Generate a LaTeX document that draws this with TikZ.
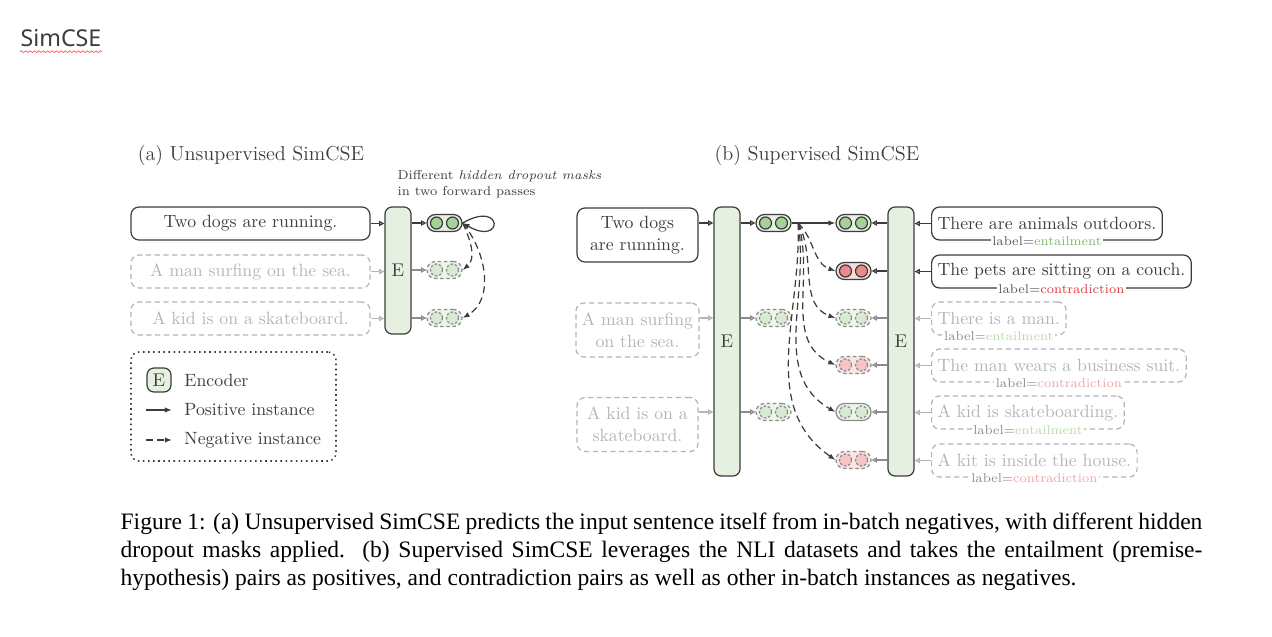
\documentclass[tikz,border=0pt]{standalone}
\usepackage{fontspec}
\usepackage{xcolor}
\usetikzlibrary{arrows.meta}
\usetikzlibrary{decorations.pathmorphing}
\newfontfamily\capfont{Liberation Serif}
\newfontfamily\headfont{Noto Sans}
\definecolor{ink}{HTML}{3C3C3C}
\definecolor{fadetext}{HTML}{B4B4B4}
\definecolor{fadeline}{HTML}{B4B4B4}
\definecolor{midline}{HTML}{8C8C8C}
\definecolor{encfill}{HTML}{E6F0E1}
\definecolor{posdot}{HTML}{A6D19B}
\definecolor{negdot}{HTML}{EC8A8A}
\definecolor{negbg}{HTML}{F8DADA}
\definecolor{entc}{HTML}{7DB86B}
\definecolor{conc}{HTML}{E03A3A}
\definecolor{fentc}{HTML}{B9DBA9}
\definecolor{fconc}{HTML}{EDA5A5}
\def\boxh{0.66cm}
\def\pillw{0.7cm}
\def\pillh{0.34cm}
\def\encw{0.52cm}
\newcommand\twodots[1]{\draw[#1] ([xshift=-0.16cm]path picture bounding box.center) circle (0.12cm) ([xshift=0.16cm]path picture bounding box.center) circle (0.12cm);}
\tikzset{
	sent/.style={draw=ink, text=ink, rounded corners=0.16cm, minimum height=\boxh, inner xsep=0.12cm, font=\fontsize{10.1}{12.5}\selectfont},
	fsent/.style={sent, draw=fadeline, text=fadetext, dash pattern=on 3pt off 2pt},
	enc/.style={draw=ink, fill=encfill, rounded corners=0.14cm, minimum width=\encw, text=ink, font=\fontsize{10.5}{12}\selectfont},
	pillbase/.style={rounded corners=0.17cm, minimum width=\pillw, minimum height=\pillh, inner sep=0pt},
	pospill/.style={pillbase, draw=ink, fill=encfill, path picture={\twodots{solid, draw=ink, fill=posdot}}},
	negpill/.style={pillbase, draw=ink, fill=negbg, path picture={\twodots{solid, draw=ink, fill=negdot}}},
	fpospill/.style={pillbase, draw=midline, dash pattern=on 2pt off 1.5pt, fill=encfill!70, path picture={\twodots{draw=midline, dash pattern=on 1.5pt off 1pt, fill=posdot!45}}},
	fnegpill/.style={pillbase, draw=midline, dash pattern=on 2pt off 1.5pt, fill=negbg!70, path picture={\twodots{draw=midline, dash pattern=on 1.5pt off 1pt, fill=negdot!50}}},
	lab/.style={fill=white, inner xsep=1pt, inner ysep=0.5pt, text=ink!85, font=\fontsize{7.3}{8}\selectfont},
	flab/.style={lab, text=midline},
	feed/.style={draw=ink, -{Triangle[open, length=3pt, width=3pt]}},
	ffeed/.style={feed, draw=fadeline},
	mfeed/.style={feed, draw=midline},
	posarr/.style={draw=ink, -{Latex[length=4pt, width=3pt]}},
	negarr/.style={posarr, dash pattern=on 4pt off 2.5pt},
}

\begin{document}
\begin{tikzpicture}[x=0.02cm, y=-0.02cm, line width=0.7pt]
	\useasboundingbox (0,0) rectangle (1272,636);

	\node[anchor=west, inner sep=0pt, text=ink, font=\headfont\fontsize{13.2}{15}\selectfont] (hd) at (20,38) {SimCSE};
	\draw[red!65, line width=0.4pt, decorate, decoration={snake, amplitude=0.5pt, segment length=2.5pt}] ([yshift=-2.5pt]hd.south west) -- ([yshift=-2.5pt]hd.south east);

	% (a) unsupervised
	\node[text=ink, font=\fontsize{11.5}{14}\selectfont] (ta) at (251,155) {(a) Unsupervised SimCSE};
	\node[sent, minimum width=4.78cm] (sa1) at (250.5,223.5) {Two dogs are running.};
	\node[fsent, minimum width=4.78cm] (sa2) at (250.5,271.5) {A man surfing on the sea.};
	\node[fsent, minimum width=4.78cm] (sa3) at (250.5,318.5) {A kid is on a skateboard.};
	\node[enc, minimum height=2.54cm] (ea) at (398,270.5) {E};
	\node[pospill] (pa1) at (444.5,223) {};
	\node[fpospill] (pa2) at (444.5,270) {};
	\node[fpospill] (pa3) at (444.5,318) {};
	\node[anchor=west, align=left, inner sep=0pt, text=ink, font=\fontsize{7.3}{9}\selectfont] (note) at (397,184) {Different \textit{hidden dropout masks}\\in two forward passes};
	\draw[feed] (sa1.east) -- (sa1.east -| ea.west);
	\draw[ffeed] (sa2.east) -- (sa2.east -| ea.west);
	\draw[ffeed] (sa3.east) -- (sa3.east -| ea.west);
	\draw[feed] (ea.east |- pa1) -- (pa1.west);
	\draw[mfeed] (ea.east |- pa2) -- (pa2.west);
	\draw[mfeed] (ea.east |- pa3) -- (pa3.west);
	\draw[posarr] (pa1.east) .. controls +(30:0.95cm) and +(-30:0.95cm) .. (pa1.east);
	\draw[negarr] (pa1.east) to[out=-65, in=40] (pa2.east);
	\draw[negarr] (pa1.east) to[out=-50, in=30] (pa3.east);

	% legend
	\node[draw=ink, dotted, line width=0.9pt, rounded corners=0.16cm, minimum width=4.1cm, minimum height=2.18cm] (leg) at (233.5,406.5) {};
	\node[enc, minimum height=0.48cm, minimum width=0.48cm, inner sep=0pt] (le) at (159,380) {E};
	\node[anchor=west, text=ink, font=\fontsize{10.1}{12}\selectfont] (lt1) at (178,380) {Encoder};
	\coordinate (lp1) at (146,410);
	\coordinate (lp2) at (172,410);
	\node[anchor=west, text=ink, font=\fontsize{10.1}{12}\selectfont] (lt2) at (178,410) {Positive instance};
	\coordinate (ln1) at (146,440);
	\coordinate (ln2) at (172,440);
	\node[anchor=west, text=ink, font=\fontsize{10.1}{12}\selectfont] (lt3) at (178,440) {Negative instance};
	\draw[posarr] (lp1) -- (lp2);
	\draw[negarr] (ln1) -- (ln2);

	% (b) supervised
	\node[text=ink, font=\fontsize{11.5}{14}\selectfont] (tb) at (817,155) {(b) Supervised SimCSE};
	\node[sent, minimum width=2.42cm, minimum height=1.08cm, align=center] (sb1) at (637.5,235) {Two dogs\\are running.};
	\node[fsent, minimum width=2.42cm, minimum height=1.08cm, align=center] (sb2) at (637.5,330) {A man surfing\\on the sea.};
	\node[fsent, minimum width=2.42cm, minimum height=1.08cm, align=center] (sb3) at (637.5,424.5) {A kid is on a\\skateboard.};
	\node[enc, minimum height=5.38cm] (eb) at (727,341.5) {E};
	\node[pospill] (pb1) at (773.5,223) {};
	\node[fpospill] (pb2) at (773.5,318) {};
	\node[fpospill] (pb3) at (773.5,412) {};
	\node[pospill] (pc1) at (853.5,223) {};
	\node[negpill] (pc2) at (853.5,271) {};
	\node[fpospill] (pc3) at (853.5,318) {};
	\node[fnegpill] (pc4) at (853.5,365) {};
	\node[fpospill, solid, draw=midline] (pc5) at (853.5,412) {};
	\node[fnegpill] (pc6) at (853.5,460) {};
	\node[enc, minimum height=5.38cm] (ec) at (901,341.5) {E};
	\node[sent, anchor=west] (sc1) at (931,223.5) {There are animals outdoors.};
	\node[sent, anchor=west] (sc2) at (931,271.5) {The pets are sitting on a couch.};
	\node[fsent, anchor=west] (sc3) at (931,318.5) {There is a man.};
	\node[fsent, anchor=west] (sc4) at (931,365.5) {The man wears a business suit.};
	\node[fsent, anchor=west] (sc5) at (931,412.5) {A kid is skateboarding.};
	\node[fsent, anchor=west] (sc6) at (931,460.5) {A kit is inside the house.};
	\node[lab] (l1) at (sc1.south) {label=\textcolor{entc}{entailment}};
	\node[lab] (l2) at (sc2.south) {label=\textcolor{conc}{contradiction}};
	\node[flab] (l3) at (sc3.south) {label=\textcolor{fentc}{entailment}};
	\node[flab] (l4) at (sc4.south) {label=\textcolor{fconc}{contradiction}};
	\node[flab] (l5) at (sc5.south) {label=\textcolor{fentc}{entailment}};
	\node[flab] (l6) at (sc6.south) {label=\textcolor{fconc}{contradiction}};
	\coordinate (fan) at ([xshift=0.13cm]pb1.east);

	\draw[feed] (sb1.east |- pb1) -- (eb.west |- pb1);
	\draw[ffeed] (sb2.east |- pb2) -- (eb.west |- pb2);
	\draw[ffeed] (sb3.east |- pb3) -- (eb.west |- pb3);
	\draw[feed] (eb.east |- pb1) -- (pb1.west);
	\draw[mfeed] (eb.east |- pb2) -- (pb2.west);
	\draw[mfeed] (eb.east |- pb3) -- (pb3.west);
	\draw[feed] (ec.west |- pc1) -- (pc1.east);
	\draw[feed] (ec.west |- pc2) -- (pc2.east);
	\draw[mfeed] (ec.west |- pc3) -- (pc3.east);
	\draw[mfeed] (ec.west |- pc4) -- (pc4.east);
	\draw[mfeed] (ec.west |- pc5) -- (pc5.east);
	\draw[mfeed] (ec.west |- pc6) -- (pc6.east);
	\draw[feed] (sc1.west) -- (ec.east |- sc1.west);
	\draw[feed] (sc2.west) -- (ec.east |- sc2.west);
	\draw[ffeed] (sc3.west) -- (ec.east |- sc3.west);
	\draw[ffeed] (sc4.west) -- (ec.east |- sc4.west);
	\draw[ffeed] (sc5.west) -- (ec.east |- sc5.west);
	\draw[ffeed] (sc6.west) -- (ec.east |- sc6.west);
	\draw[posarr] (pb1.east) -- (pc1.west);
	\draw[negarr] (fan) to[out=-45, in=160] (pc2.west);
	\draw[negarr] (fan) to[out=-62, in=160] (pc3.west);
	\draw[negarr] (fan) to[out=-73, in=155] (pc4.west);
	\draw[negarr] (fan) to[out=-81, in=150] (pc5.west);
	\draw[negarr] (fan) to[out=-88, in=145] (pc6.west);

	% caption
	\node[anchor=north west, inner sep=0pt, text width=21.64cm, align=justify, text=black, font=\capfont\fontsize{13.4}{15.9}\selectfont] (cap) at (120,512) {\hyphenpenalty=10000 Figure 1: (a) Unsupervised SimCSE predicts the input sentence itself from in-batch negatives, with different hidden\linebreak dropout masks applied.\ \ (b) Supervised SimCSE leverages the NLI datasets and takes the entailment (premise-\linebreak hypothesis) pairs as positives, and contradiction pairs as well as other in-batch instances as negatives.};
\end{tikzpicture}
\end{document}
